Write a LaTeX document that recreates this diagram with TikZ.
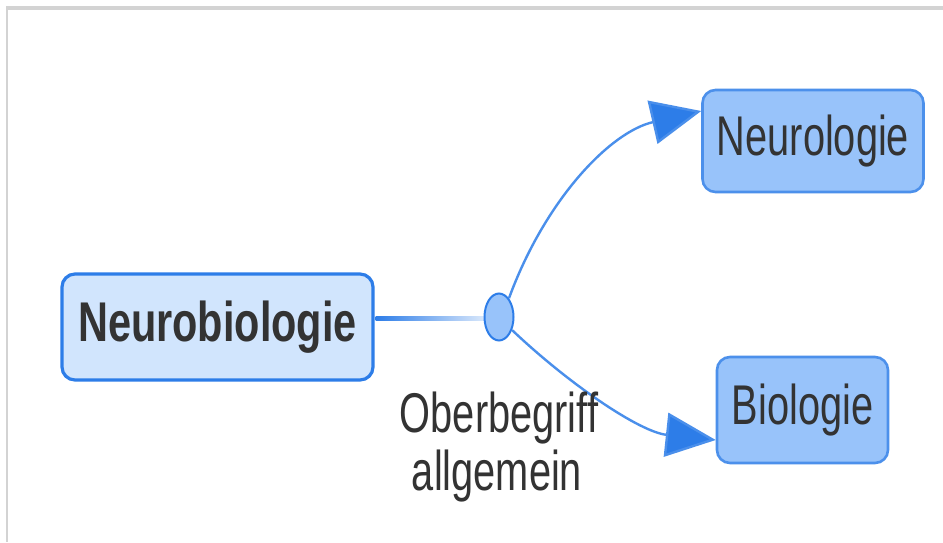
\documentclass[tikz,border=0pt]{standalone}
\usepackage{fontspec}
\usetikzlibrary{arrows.meta,shapes.geometric}
\newfontfamily\regfont[FakeStretch=0.71]{Liberation Sans}
\newfontfamily\boldfont[FakeStretch=0.74]{Liberation Sans Bold}
\definecolor{txt}{HTML}{333333}
\definecolor{edgeblue}{HTML}{2D7DE8}
\definecolor{lineblue}{HTML}{4A8FEB}
\definecolor{lightfill}{HTML}{D1E5FD}
\definecolor{midfill}{HTML}{98C3FA}
\definecolor{frame}{HTML}{D3D3D3}
\tikzset{
  mainbox/.style={draw=edgeblue, line width=3.2pt, fill=lightfill, rounded corners=13pt,
    inner sep=0pt, text=txt, font=\boldfont\fontsize{56}{58}\selectfont},
  subbox/.style={draw=edgeblue!85!white, line width=2.6pt, fill=midfill, rounded corners=13pt,
    inner sep=0pt, text=txt, font=\regfont\fontsize{56}{58}\selectfont},
  junction/.style={ellipse, draw=edgeblue, line width=2pt, fill=midfill, inner sep=0pt,
    minimum width=29pt, minimum height=47pt},
  conn/.style={draw=lineblue, line width=2.4pt},
  bigtip/.style={-{Triangle[length=50pt,width=44pt,fill=edgeblue]}},
  lbl/.style={text=txt, font=\regfont\fontsize{56}{58}\selectfont, inner sep=0pt, anchor=base}
}
\begin{document}
\begin{tikzpicture}[x=1pt,y=-1pt]
\useasboundingbox (0,0) rectangle (943,542);
\fill[white] (0,0) rectangle (943,542);
% frame
\draw[frame, line width=4pt] (6,8) -- (943,8);
\draw[frame, line width=2pt] (6.5,6) -- (6.5,542);
% nodes
\node[mainbox, minimum width=311pt, minimum height=106pt] (nb) at (217.5,327) {Neurobiologie};
\node[subbox, minimum width=221pt, minimum height=102pt] (nl) at (813,141) {Neurologie};
\node[subbox, minimum width=171pt, minimum height=106pt] (bio) at (802.5,410) {Biologie};
% connector with fading
\shade[left color=edgeblue, middle color=edgeblue, right color=edgeblue!18]
  ([xshift=1pt]nb.east |- 0,316.5) rectangle (485,320.5);
\node[junction] (j) at (499,317) {};
\draw[conn, bigtip] (j.62) .. controls (545,200) and (610,132) .. ([yshift=30pt]nl.west);
\draw[conn, bigtip] (j.-45) .. controls (570,385) and (640,432) .. ([yshift=-30pt]bio.west);
% label
\node[lbl] (l1) at (499,432) {Oberbegriff};
\node[lbl] (l2) at (497,490) {allgemein};
\end{tikzpicture}
\end{document}
